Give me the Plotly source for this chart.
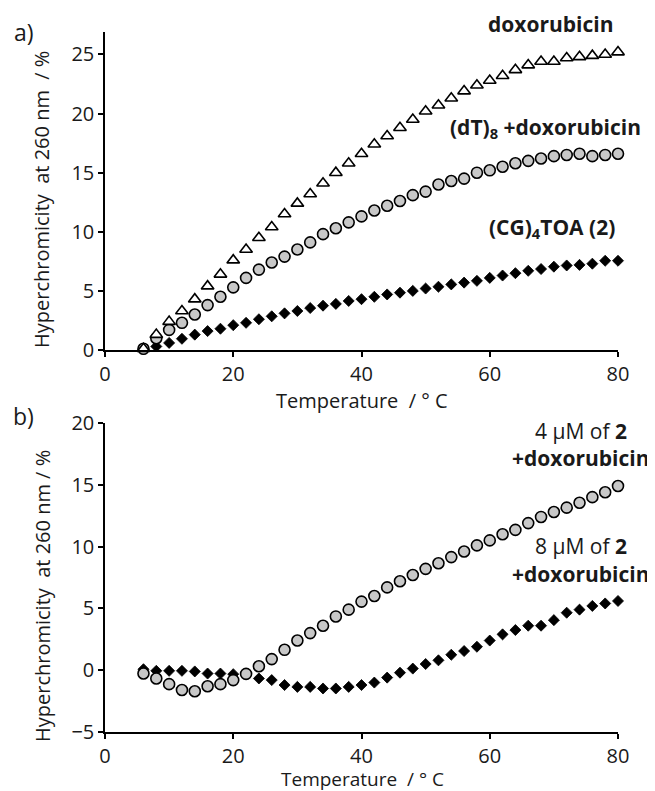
import plotly.graph_objects as go

# page body adds an 8px margin; figure sized so that it fills the 655x791 window
OFF = 8
W, H = 655 - OFF, 791 - OFF

temperature = [6, 8, 10, 12, 14, 16, 18, 20, 22, 24, 26, 28, 30, 32, 34, 36, 38, 40,
               42, 44, 46, 48, 50, 52, 54, 56, 58, 60, 62, 64, 66, 68, 70, 72, 74, 76, 78, 80]

# Panel a
doxorubicin = [0.1, 1.3, 2.4, 3.3, 4.3, 5.4, 6.4, 7.6, 8.5, 9.5, 10.4, 11.5, 12.4, 13.2, 14.1,
               15.0, 15.8, 16.6, 17.4, 18.1, 18.8, 19.5, 20.2, 20.7, 21.3, 21.9, 22.4, 22.8,
               23.2, 23.7, 24.1, 24.4, 24.4, 24.7, 24.8, 24.9, 25.0, 25.2]
dT8_doxorubicin = [0.1, 1.0, 1.7, 2.3, 3.0, 3.8, 4.5, 5.3, 6.1, 6.8, 7.4, 7.9, 8.5, 9.1, 9.8,
                   10.3, 10.8, 11.3, 11.8, 12.2, 12.6, 13.1, 13.4, 14.0, 14.3, 14.5, 15.0, 15.2,
                   15.5, 15.8, 16.0, 16.2, 16.4, 16.5, 16.6, 16.4, 16.5, 16.6]
CG4TOA = [0.05, 0.3, 0.6, 0.95, 1.3, 1.6, 1.8, 2.1, 2.3, 2.6, 2.85, 3.1, 3.3, 3.55, 3.75,
          3.9, 4.15, 4.3, 4.5, 4.7, 4.85, 5.0, 5.2, 5.35, 5.55, 5.7, 5.85, 6.1, 6.3, 6.5,
          6.7, 6.85, 7.05, 7.15, 7.2, 7.3, 7.55, 7.55]

# Panel b
uM4_doxorubicin = [-0.27, -0.67, -1.13, -1.6, -1.7, -1.3, -1.13, -0.8, -0.3, 0.32, 0.9, 1.65,
                   2.4, 3.0, 3.6, 4.35, 4.9, 5.55, 6.0, 6.7, 7.2, 7.7, 8.2, 8.65, 9.15, 9.6,
                   10.1, 10.5, 11.0, 11.35, 11.9, 12.4, 12.8, 13.15, 13.55, 14.0, 14.4, 14.9]
uM8_doxorubicin = [0.08, -0.05, -0.05, -0.05, -0.1, -0.27, -0.27, -0.32, -0.27, -0.67, -0.8,
                   -1.2, -1.35, -1.35, -1.48, -1.48, -1.35, -1.2, -1.0, -0.6, -0.2, 0.13, 0.5,
                   0.8, 1.25, 1.55, 1.9, 2.4, 2.9, 3.25, 3.6, 3.6, 4.05, 4.65, 4.9, 5.2, 5.4, 5.6]

x_ticks = [0, 20, 40, 60, 80]
y_ticks_a = [0, 5, 10, 15, 20, 25]
y_ticks_b = [-5, 0, 5, 10, 15, 20]

FONT = "Open Sans"
FS_TICK = 20
FS_TITLE = 20
FS_LAB = 21
COL = "#1a1a1a"


def px_x(p):
    return (p - OFF) / W


def px_y(p):
    return 1 - (p - OFF) / H


fig = go.Figure()

tri = dict(symbol="triangle-up", size=11, color="white", line=dict(color="black", width=1.6))
circ = dict(symbol="circle", size=11, color="#c8c8c8", line=dict(color="black", width=1.6))
dia = dict(symbol="diamond", size=8.5, color="black", line=dict(color="black", width=0.8))

fig.add_trace(go.Scatter(x=temperature, y=CG4TOA, mode="markers", marker=dia,
                         xaxis="x", yaxis="y", cliponaxis=False, showlegend=False))
fig.add_trace(go.Scatter(x=temperature, y=dT8_doxorubicin, mode="markers", marker=circ,
                         xaxis="x", yaxis="y", cliponaxis=False, showlegend=False))
fig.add_trace(go.Scatter(x=temperature, y=doxorubicin, mode="markers", marker=tri,
                         xaxis="x", yaxis="y", cliponaxis=False, showlegend=False))

fig.add_trace(go.Scatter(x=temperature, y=uM8_doxorubicin, mode="markers", marker=dia,
                         xaxis="x2", yaxis="y2", cliponaxis=False, showlegend=False))
fig.add_trace(go.Scatter(x=temperature, y=uM4_doxorubicin, mode="markers", marker=circ,
                         xaxis="x2", yaxis="y2", cliponaxis=False, showlegend=False))

axis_common = dict(showline=True, linecolor="black", linewidth=1.5, ticks="outside",
                   ticklen=5, tickwidth=1.5, tickcolor="black", showgrid=False,
                   zeroline=False, automargin=False,
                   tickfont=dict(family=FONT, size=FS_TICK, color=COL))

xd = [px_x(105), px_x(618)]
fig.update_layout(
    width=W, height=H,
    margin=dict(l=0, r=0, t=0, b=0, autoexpand=False),
    paper_bgcolor="white", plot_bgcolor="white",
    font=dict(family=FONT, size=FS_TICK, color=COL),
    xaxis=dict(domain=xd, range=[0, 80], tickvals=x_ticks, anchor="y", **axis_common),
    yaxis=dict(domain=[px_y(350), px_y(32)], range=[0, 26.9], tickvals=y_ticks_a,
               anchor="x", **axis_common),
    xaxis2=dict(domain=xd, range=[0, 80], tickvals=x_ticks, anchor="y2", **axis_common),
    yaxis2=dict(domain=[px_y(732), px_y(423)], range=[-5, 20], tickvals=y_ticks_b,
                anchor="x2", **axis_common),
)

ann = []


def txt(text, x, y, size, angle=0):
    ann.append(dict(text=text, x=px_x(x), y=px_y(y), xref="paper", yref="paper",
                    showarrow=False, textangle=angle, xanchor="center", yanchor="middle",
                    font=dict(family=FONT, size=size, color=COL)))


txt("a)", 24, 32, 23)
txt("b)", 23, 416, 23)
txt("Hyperchromicity  at 260 nm  / %", 42, 200, FS_TITLE, angle=-90)
txt("Hyperchromicity  at 260 nm / %", 42, 596, FS_TITLE, angle=-90)
txt("Temperature  / ° C", 362, 400, FS_TITLE)
txt("Temperature  / ° C", 362, 779, 19)
txt("<b>doxorubicin</b>", 550, 24, FS_LAB)
txt("<b>(dT)<sub>8</sub> +doxorubicin</b>", 545, 128, FS_LAB)
txt("<b>(CG)<sub>4</sub>TOA (2)</b>", 552, 228, FS_LAB)
txt("4 µM of <b>2</b>", 581, 431, FS_LAB)
txt("<b>+doxorubicin</b>", 580, 458, FS_LAB)
txt("8 µM of <b>2</b>", 581, 546, FS_LAB)
txt("<b>+doxorubicin</b>", 580, 574, FS_LAB)

fig.update_layout(annotations=ann)

fig.write_html("out.html")
